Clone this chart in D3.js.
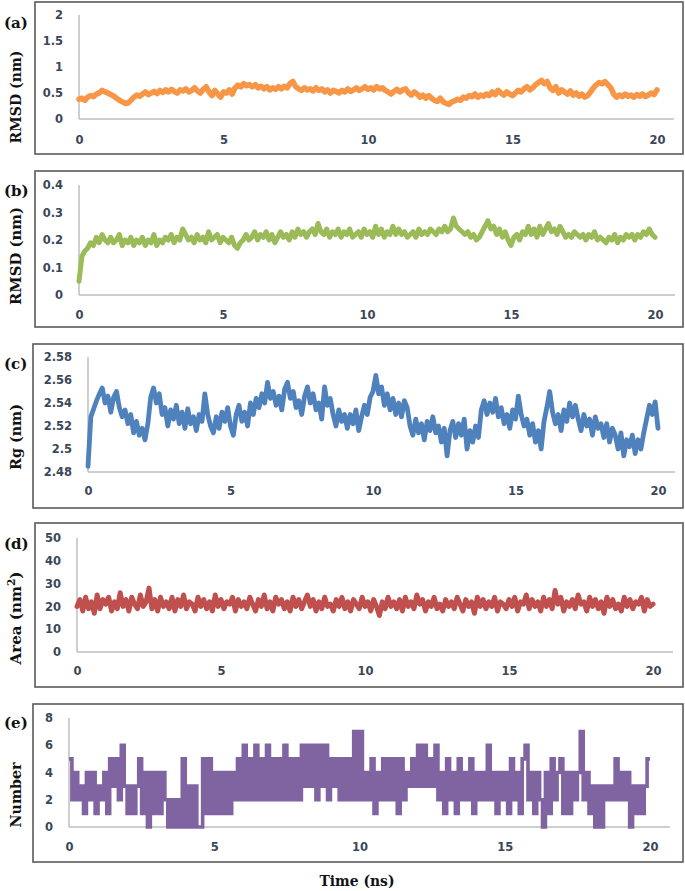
<!DOCTYPE html>
<html>
<head>
<meta charset="utf-8">
<script src="https://cdn.jsdelivr.net/npm/d3@7"></script>
<style>
html,body{margin:0;padding:0;background:#fff;}
svg{display:block;}
</style>
</head>
<body>
<svg id="chart" width="685" height="891"></svg>
<script>
// ---------------- DATA ----------------
const timeTicks = [0, 5, 10, 15, 20];
const timeStep = 0.1; // ns between samples

const rmsdLigand = [ // (a) RMSD (nm)
0.38,0.40,0.36,0.42,0.45,0.43,0.48,0.50,0.55,0.52,0.50,
0.47,0.44,0.40,0.36,0.33,0.30,0.31,0.36,0.42,0.46,
0.44,0.48,0.52,0.47,0.50,0.53,0.49,0.55,0.51,0.56,
0.52,0.57,0.53,0.50,0.56,0.54,0.58,0.52,0.55,0.60,
0.54,0.50,0.57,0.62,0.52,0.45,0.55,0.48,0.42,0.52,
0.50,0.56,0.48,0.60,0.65,0.62,0.68,0.64,0.66,0.62,
0.66,0.60,0.63,0.58,0.62,0.56,0.60,0.57,0.62,0.58,
0.63,0.60,0.68,0.72,0.62,0.58,0.55,0.60,0.56,0.58,
0.54,0.60,0.55,0.58,0.52,0.56,0.50,0.55,0.53,0.50,
0.55,0.52,0.58,0.53,0.56,0.60,0.55,0.58,0.62,0.57,
0.60,0.56,0.62,0.58,0.60,0.55,0.52,0.48,0.53,0.57,
0.52,0.56,0.58,0.50,0.46,0.52,0.48,0.42,0.46,0.40,
0.45,0.40,0.36,0.34,0.40,0.33,0.30,0.28,0.33,0.35,
0.38,0.36,0.42,0.40,0.45,0.43,0.48,0.42,0.46,0.44,
0.48,0.45,0.52,0.47,0.55,0.50,0.46,0.52,0.48,0.45,
0.50,0.55,0.52,0.58,0.62,0.56,0.60,0.66,0.70,0.74,
0.68,0.72,0.60,0.55,0.62,0.50,0.56,0.52,0.48,0.54,
0.46,0.50,0.44,0.48,0.42,0.45,0.52,0.60,0.66,0.70,
0.68,0.72,0.66,0.60,0.48,0.42,0.46,0.43,0.48,0.44,
0.46,0.42,0.47,0.44,0.48,0.43,0.46,0.50,0.47,0.56];

const rmsdProtein = [ // (b) RMSD (nm)
0.05,0.14,0.16,0.17,0.19,0.18,0.21,0.19,0.22,0.20,0.19,
0.21,0.19,0.20,0.22,0.18,0.20,0.19,0.21,0.18,0.20,
0.19,0.21,0.18,0.20,0.19,0.22,0.18,0.20,0.19,0.21,
0.20,0.22,0.19,0.21,0.20,0.24,0.22,0.20,0.21,0.19,
0.22,0.20,0.21,0.19,0.23,0.20,0.21,0.22,0.19,0.21,
0.20,0.19,0.21,0.18,0.17,0.19,0.20,0.22,0.20,0.21,
0.23,0.20,0.22,0.21,0.23,0.20,0.22,0.19,0.21,0.23,
0.21,0.22,0.20,0.23,0.21,0.24,0.22,0.23,0.21,0.23,
0.24,0.22,0.26,0.23,0.22,0.24,0.21,0.23,0.22,0.24,
0.21,0.23,0.22,0.24,0.21,0.22,0.23,0.21,0.24,0.22,
0.23,0.21,0.25,0.22,0.24,0.21,0.23,0.22,0.25,0.22,
0.24,0.22,0.23,0.21,0.22,0.23,0.21,0.24,0.22,0.23,
0.22,0.24,0.23,0.22,0.24,0.23,0.25,0.23,0.24,0.28,
0.25,0.24,0.23,0.22,0.23,0.21,0.22,0.20,0.21,0.23,
0.25,0.27,0.24,0.25,0.22,0.24,0.21,0.23,0.20,0.18,
0.21,0.22,0.20,0.23,0.22,0.25,0.22,0.24,0.21,0.25,
0.22,0.24,0.26,0.23,0.24,0.22,0.25,0.23,0.21,0.22,
0.21,0.23,0.22,0.21,0.22,0.20,0.22,0.21,0.23,0.20,
0.21,0.20,0.19,0.21,0.20,0.22,0.19,0.21,0.20,0.22,
0.21,0.22,0.20,0.22,0.21,0.23,0.22,0.24,0.22,0.21];

const radiusGyration = [ // (c) Rg (nm)
2.485,2.528,2.535,2.542,2.548,2.553,2.540,2.546,2.532,2.545,2.550,
2.536,2.528,2.534,2.522,2.530,2.514,2.524,2.512,2.518,2.508,
2.522,2.545,2.553,2.540,2.548,2.530,2.536,2.520,2.534,2.526,
2.538,2.522,2.532,2.518,2.535,2.522,2.528,2.516,2.530,2.524,
2.548,2.530,2.520,2.514,2.528,2.518,2.532,2.524,2.536,2.520,
2.512,2.530,2.538,2.524,2.532,2.520,2.540,2.530,2.544,2.536,
2.548,2.540,2.558,2.544,2.550,2.538,2.546,2.534,2.552,2.558,
2.544,2.550,2.536,2.542,2.530,2.546,2.554,2.540,2.548,2.534,
2.540,2.526,2.554,2.538,2.544,2.530,2.520,2.534,2.524,2.530,
2.518,2.530,2.522,2.534,2.516,2.528,2.538,2.530,2.545,2.550,
2.564,2.548,2.554,2.538,2.548,2.534,2.544,2.530,2.540,2.528,
2.542,2.536,2.520,2.512,2.526,2.514,2.522,2.508,2.524,2.516,
2.528,2.514,2.520,2.506,2.518,2.494,2.516,2.524,2.510,2.522,
2.512,2.526,2.500,2.516,2.506,2.520,2.510,2.534,2.542,2.530,
2.540,2.532,2.544,2.528,2.536,2.522,2.530,2.518,2.534,2.526,
2.546,2.530,2.520,2.526,2.512,2.522,2.506,2.516,2.500,2.524,
2.536,2.550,2.532,2.522,2.530,2.516,2.534,2.524,2.540,2.528,
2.538,2.526,2.516,2.530,2.520,2.526,2.512,2.528,2.518,2.522,
2.510,2.522,2.506,2.518,2.512,2.500,2.514,2.494,2.508,2.502,
2.512,2.496,2.508,2.500,2.514,2.526,2.538,2.530,2.541,2.518];

const sasaArea = [ // (d) Area (nm^2)
20,23,18,24,19,22,17,25,19,23,21,
24,18,22,19,26,20,23,18,24,21,
19,25,20,22,28,19,23,18,24,20,
22,19,24,18,23,20,25,19,22,21,
18,24,20,23,19,22,18,25,20,23,
19,22,21,24,18,23,20,22,19,24,
21,18,23,20,25,19,22,18,24,21,
23,19,22,18,24,20,23,19,22,25,
20,23,18,22,19,24,20,21,18,23,
20,24,19,22,18,23,21,19,24,20,
22,18,23,20,16,22,19,24,20,22,
19,23,18,24,20,22,19,25,21,23,
18,22,20,24,19,21,18,23,20,22,
19,24,21,18,23,20,22,17,24,20,
23,19,22,20,24,18,22,21,19,23,
20,24,18,22,21,25,19,23,20,22,
18,24,20,23,19,27,21,24,18,22,
20,23,19,25,21,22,18,24,20,23,
19,22,17,24,20,23,19,21,18,24,
20,23,19,22,21,24,18,23,20,21];

const hbondNumber = [ // (e) Number
5,2,4,2,3,1,4,2,4,1,3,
2,4,1,5,3,5,2,6,3,1,
3,1,3,5,1,4,0,4,1,4,
1,4,2,0,2,0,2,0,5,0,
3,0,3,0,0,5,1,5,1,4,
1,4,1,4,1,4,2,5,2,6,
2,5,2,6,2,5,2,6,2,5,
2,5,2,6,2,5,2,5,2,6,
3,6,3,6,2,6,3,6,2,5,
3,5,2,5,2,5,2,7,2,7,
2,4,2,5,1,4,2,5,2,5,
2,5,1,5,2,4,3,5,3,6,
3,6,3,5,3,6,2,4,1,5,
2,4,1,5,2,4,2,5,1,4,
2,4,2,6,2,4,1,4,2,4,
1,5,2,4,1,5,6,2,4,1,
4,2,0,4,1,5,2,4,5,1,
4,1,4,2,4,7,2,4,1,3,
0,3,0,3,2,3,2,5,2,4,
2,4,0,3,1,3,1,3,5,5];

const yTicksA = [0, 0.5, 1, 1.5, 2];
const yTicksB = [0, 0.1, 0.2, 0.3, 0.4];
const yTicksC = [2.48, 2.5, 2.52, 2.54, 2.56, 2.58];
const yTicksD = [0, 10, 20, 30, 40, 50];
const yTicksE = [0, 2, 4, 6, 8];

const panelLetters = ["(a)", "(b)", "(c)", "(d)", "(e)"];
const yTitles = ["RMSD (nm)", "RMSD (nm)", "Rg (nm)", "Area (nm2)", "Number"];
const xTitle = "Time (ns)";

// ---------------- LAYOUT ----------------
const panels = [
  {values: rmsdLigand, ticks: yTicksA, color: "#F79646", curve: d3.curveLinear, sw: 5.6,
   box: [35, 2, 683, 154], x0: 79, x20: 657, xEnd: 674, yTop: 15, yBot: 119, yLblRight: 63, xLblY: 142,
   letterY: 28, titleY: 97, titleLen: 93},
  {values: rmsdProtein, ticks: yTicksB, color: "#9BBB59", curve: d3.curveLinear, sw: 5,
   box: [35, 171, 683, 327], x0: 79, x20: 655, xEnd: 675, yTop: 185, yBot: 295, yLblRight: 63, xLblY: 317,
   letterY: 196, titleY: 256, titleLen: 98},
  {values: radiusGyration, ticks: yTicksC, color: "#4F81BD", curve: d3.curveLinear, sw: 4.8,
   box: [33, 344, 683, 508], x0: 88, x20: 658, xEnd: 675, yTop: 357, yBot: 472, yLblRight: 72, xLblY: 493,
   letterY: 369, titleY: 437, titleLen: 66},
  {values: sasaArea, ticks: yTicksD, color: "#C0504D", curve: d3.curveLinear, sw: 5,
   box: [35, 523, 683, 687], x0: 77, x20: 653, xEnd: 673, yTop: 538, yBot: 652, yLblRight: 61, xLblY: 673,
   letterY: 549, titleY: 618, titleLen: 93},
  {values: hbondNumber, ticks: yTicksE, color: "#8064A2", curve: d3.curveStepAfter, sw: 3.6,
   box: [33, 704, 683, 862], x0: 69, x20: 650, xEnd: 670, yTop: 718, yBot: 827, yLblRight: 53, xLblY: 849,
   letterY: 728, titleY: 795, titleLen: 65}
];

const svg = d3.select("#chart");
const serif = "'DejaVu Serif', 'Liberation Serif', serif";
const tickFont = "'DejaVu Sans', sans-serif";
const tickColor = "#3b4759";
const axisGray = "#bfbfbf";

function fitText(sel, target, base) {
  const len = sel.node().getComputedTextLength();
  if (len > 0) sel.attr("font-size", base * target / len);
}

panels.forEach((p, i) => {
  const g = svg.append("g");
  const [bx0, by0, bx1, by1] = p.box;
  g.append("rect")
    .attr("x", bx0).attr("y", by0)
    .attr("width", bx1 - bx0).attr("height", by1 - by0)
    .attr("fill", "#fff").attr("stroke", "#5a5a5a").attr("stroke-width", 1.6);

  const x = d3.scaleLinear().domain([0, 20]).range([p.x0, p.x20]);
  const yMin = p.ticks[0], yMax = p.ticks[p.ticks.length - 1];
  const y = d3.scaleLinear().domain([yMin, yMax]).range([p.yBot, p.yTop]);

  // axis lines
  g.append("line").attr("x1", p.x0).attr("x2", p.x0).attr("y1", p.yTop).attr("y2", p.yBot)
    .attr("stroke", axisGray).attr("stroke-width", 1.5);
  g.append("line").attr("x1", p.x0).attr("x2", p.xEnd).attr("y1", p.yBot).attr("y2", p.yBot)
    .attr("stroke", axisGray).attr("stroke-width", 1.5);

  // y axis labels
  const ya = g.append("g").attr("transform", `translate(${p.yLblRight},0)`)
    .call(d3.axisLeft(y).tickValues(p.ticks).tickSize(0).tickPadding(0).tickFormat(d => String(+d.toFixed(3))));
  ya.select(".domain").remove();
  ya.selectAll("text").attr("font-family", tickFont).attr("font-weight", "bold")
    .attr("font-size", 11.5).attr("fill", tickColor);

  // x axis labels
  const xa = g.append("g").attr("transform", `translate(0,${p.xLblY - 6})`)
    .call(d3.axisBottom(x).tickValues(timeTicks).tickSize(0).tickPadding(0));
  xa.select(".domain").remove();
  xa.selectAll("text").attr("font-family", tickFont).attr("font-weight", "bold")
    .attr("font-size", 11.5).attr("fill", tickColor);

  // series
  const line = d3.line()
    .x((d, j) => x(j * timeStep))
    .y(d => y(d))
    .curve(p.curve);
  g.append("path").datum(p.values)
    .attr("d", line)
    .attr("fill", "none")
    .attr("stroke", p.color)
    .attr("stroke-width", p.sw)
    .attr("stroke-linejoin", i === 4 ? "miter" : "round")
    .attr("stroke-linecap", i === 4 ? "butt" : "round");

  // panel letter
  svg.append("text").attr("x", 4).attr("y", p.letterY)
    .attr("font-family", serif).attr("font-weight", "bold").attr("font-size", 15)
    .attr("fill", "#111").text(panelLetters[i]);

  // y title
  const t = svg.append("text")
    .attr("transform", `translate(21,${p.titleY}) rotate(-90)`)
    .attr("text-anchor", "middle")
    .attr("font-family", serif).attr("font-weight", "bold").attr("font-size", 14)
    .attr("fill", "#111");
  if (i === 3) {
    t.append("tspan").text("Area (nm");
    t.append("tspan").attr("baseline-shift", "super").attr("font-size", "70%").text("2");
    t.append("tspan").text(")");
  } else {
    t.text(yTitles[i]);
  }
  fitText(t, p.titleLen, 14);
});

const xt = svg.append("text").attr("x", 357).attr("y", 886).attr("text-anchor", "middle")
  .attr("font-family", serif).attr("font-weight", "bold").attr("font-size", 14)
  .attr("fill", "#111").text(xTitle);
fitText(xt, 75, 14);
</script>
</body>
</html>
